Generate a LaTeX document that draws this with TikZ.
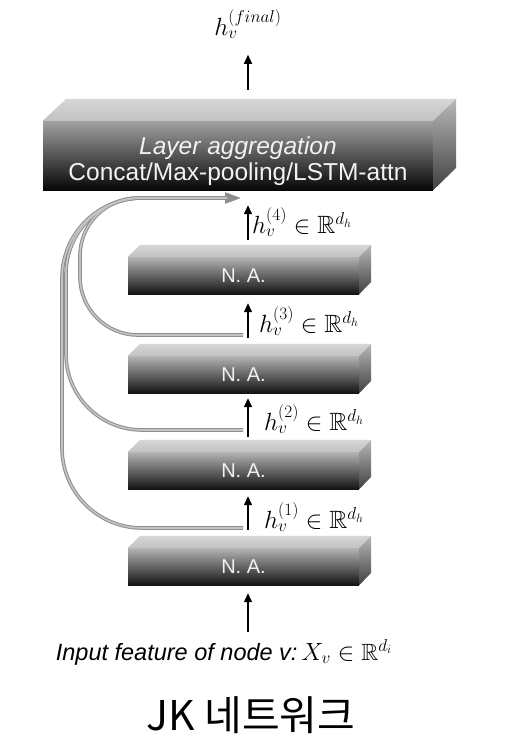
\documentclass[tikz,border=0pt]{standalone}
\usepackage{amssymb}
\usepackage{fontspec}
\setsansfont{Liberation Sans}
\newfontfamily\krfont{Noto Sans CJK KR}
\usetikzlibrary{arrows.meta}
\definecolor{naTop}{HTML}{B4B4B4}
\definecolor{naMid}{HTML}{7A7A7A}
\definecolor{naBot}{HTML}{141414}
\definecolor{naLid}{HTML}{D6D6D6}
\definecolor{naLidB}{HTML}{C2C2C2}
\definecolor{sideTop}{HTML}{B8B8B8}
\definecolor{sideBot}{HTML}{404040}
\definecolor{agTop}{HTML}{A2A2A2}
\definecolor{agMid}{HTML}{5E5E5E}
\definecolor{agBot}{HTML}{060606}
\definecolor{skipOut}{HTML}{8E8E8E}
\definecolor{skipIn}{HTML}{C4C4C4}
\definecolor{boxText}{HTML}{F2F2F2}
\begin{document}
\begin{tikzpicture}[x=1pt,y=-1pt,
  nabox/.style={draw=none, inner sep=0pt, minimum width=231pt, minimum height=37pt,
    top color=naTop, middle color=naMid, bottom color=naBot,
    text=boxText, font=\sffamily\fontsize{20}{24}\selectfont},
  aggbox/.style={draw=none, inner sep=0pt, minimum width=390pt, minimum height=69pt,
    top color=agTop, middle color=agMid, bottom color=agBot},
  lidface/.style={top color=naLid, bottom color=naLidB},
  sideface/.style={top color=sideTop, bottom color=sideBot},
  blk/.style={line width=1.3pt, black, -{Triangle[length=9pt,width=8pt]}},
  skipo/.style={line width=3.6pt, skipOut, -{Triangle[length=16pt,width=10pt]}},
  skipi/.style={line width=1.6pt, skipIn, shorten >=14pt},
  hlab/.style={anchor=west, inner sep=0pt, font=\fontsize{25}{28}\selectfont},
]
\useasboundingbox (0,0) rectangle (506,752);
\fill[white] (0,0) rectangle (506,752);

% aggregation box
\node[aggbox] (agg) at (238,155.5) {};
\shade[lidface] (agg.north west) -- (agg.north east) -- ++(23,-22) -- ++(-390,0) -- cycle;
\shade[sideface] (agg.north east) -- ++(23,-22) -- ++(0,69) -- (agg.south east) -- cycle;
\node[text=boxText, align=center, inner sep=0pt, font=\sffamily\fontsize{24.5}{25.5}\selectfont]
  (aggtext) at (238,161) {\textit{Layer aggregation}\\Concat/Max-pooling/LSTM-attn};

% N.A. boxes
\node[nabox] (na4) at (243.5,275.5) {N. A.};
\node[nabox] (na3) at (243.5,374.5) {N. A.};
\node[nabox] (na2) at (243.5,470.5) {N. A.};
\node[nabox] (na1) at (243.5,566.5) {N. A.};
\foreach \b in {na1,na2,na3,na4}{
  \shade[lidface] (\b.north west) -- (\b.north east) -- ++(12,-12) -- ++(-231,0) -- cycle;
  \shade[sideface] (\b.north east) -- ++(12,-12) -- ++(0,37) -- (\b.south east) -- cycle;
}

% skip connections
\coordinate (s1) at (243,528);
\coordinate (s2) at (243,430);
\coordinate (s3) at (243,335);
\coordinate (gend) at (241,198);
\draw[skipo, rounded corners=80pt] (s1) -- (62,528) -- (62,198) -- (gend);
\draw[skipo, rounded corners=76pt] (s2) -- (66,430) -- (66,198) -- (gend);
\draw[skipo, rounded corners=58pt] (s3) -- (80,335) -- (80,198) -- (gend);
\draw[skipi, rounded corners=80pt] (s1) -- (62,528) -- (62,198) -- (gend);
\draw[skipi, rounded corners=76pt] (s2) -- (66,430) -- (66,198) -- (gend);
\draw[skipi, rounded corners=58pt] (s3) -- (80,335) -- (80,198) -- (gend);

% labels
\node[inner sep=0pt, font=\sffamily\itshape\fontsize{23.5}{26}\selectfont] (input) at (224,652)
  {Input feature of node v:\,$X_v \in \mathbb{R}^{d_i}$};
\node[inner sep=0pt, font=\fontsize{25}{28}\selectfont] (final) at (248,24) {$h_v^{(final)}$};
\node[inner sep=0pt, font=\krfont\fontsize{41}{46}\selectfont] (title) at (251,715) {JK 네트워크};

\node[hlab] (h4) at (252,222) {$h_v^{(4)} \in \mathbb{R}^{d_h}$};
\node[hlab] (h3) at (259,321) {$h_v^{(3)} \in \mathbb{R}^{d_h}$};
\node[hlab] (h2) at (264,419) {$h_v^{(2)} \in \mathbb{R}^{d_h}$};
\node[hlab] (h1) at (264,517) {$h_v^{(1)} \in \mathbb{R}^{d_h}$};

% black arrows
\coordinate (in0) at (248,632);
\draw[blk] (in0) -- ([xshift=4.5pt,yshift=-8pt]na1.south);
\draw[blk] ([xshift=4.5pt,yshift=18pt]na1.north) -- ([xshift=4.5pt,yshift=-7pt]na2.south);
\draw[blk] ([xshift=4.5pt,yshift=15pt]na2.north) -- ([xshift=4.5pt,yshift=-5pt]na3.south);
\draw[blk] ([xshift=4.5pt,yshift=18pt]na3.north) -- ([xshift=4.5pt,yshift=-9pt]na4.south);
\draw[blk] ([xshift=4.5pt,yshift=17pt]na4.north) -- ([xshift=10pt,yshift=-15pt]agg.south);
\draw[blk] ([xshift=10pt,yshift=31pt]agg.north) -- ([xshift=10pt,yshift=66pt]agg.north);
\end{tikzpicture}
\end{document}
